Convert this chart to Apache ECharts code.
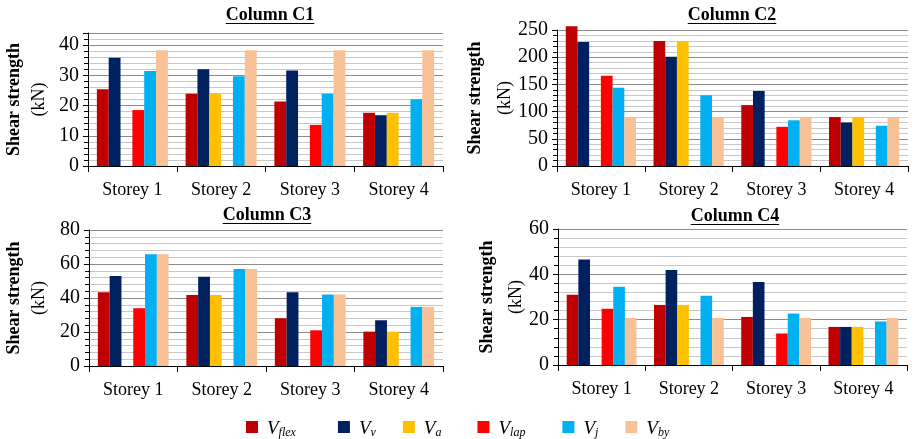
<!DOCTYPE html>
<html>
<head>
<meta charset="utf-8">
<script src="https://cdn.jsdelivr.net/npm/echarts@6/dist/echarts.min.js"></script>
<style>html,body{margin:0;padding:0;background:#fff}#c{width:915px;height:439px}</style>
</head>
<body>
<div id="c"></div>
<script>
const categories = ['Storey 1', 'Storey 2', 'Storey 3', 'Storey 4'];
const seriesNames = ['Vflex', 'Vv', 'Va', 'Vlap', 'Vj', 'Vby'];
const seriesColors = ['#C00000', '#002060', '#FFC000', '#FF0000', '#00B0F0', '#F9C196'];
const panelTitles = ['Column C1', 'Column C2', 'Column C3', 'Column C4'];
const yMax = [44, 250, 80, 60];
const yInterval = [10, 50, 20, 20];

// values per panel, per series (Vflex, Vv, Va, Vlap, Vj, Vby), per storey
const c1Vflex = [25.4, 23.9, 21.3, 17.6];
const c1Vv    = [35.8, 32.0, 31.6, 16.8];
const c1Va    = [0, 23.9, 0, 17.6];
const c1Vlap  = [18.5, 0, 13.6, 0];
const c1Vj    = [31.4, 29.7, 23.9, 22.1];
const c1Vby   = [38.3, 38.3, 38.3, 38.3];

const c2Vflex = [257, 230, 112, 90];
const c2Vv    = [228, 201, 138, 80];
const c2Va    = [0, 230, 0, 90];
const c2Vlap  = [166, 0, 72, 0];
const c2Vj    = [144, 130, 84, 74];
const c2Vby   = [89, 89, 89, 89];

const c3Vflex = [43.4, 41.8, 28.1, 20.2];
const c3Vv    = [53.0, 52.5, 43.4, 26.9];
const c3Va    = [0, 41.8, 0, 20.2];
const c3Vlap  = [34.0, 0, 21.0, 0];
const c3Vj    = [65.8, 57.0, 42.0, 34.8];
const c3Vby   = [65.8, 57.0, 42.0, 34.8];

const c4Vflex = [31.0, 26.5, 21.2, 16.8];
const c4Vv    = [46.5, 41.9, 36.6, 16.8];
const c4Va    = [0, 26.5, 0, 16.8];
const c4Vlap  = [24.8, 0, 13.9, 0];
const c4Vj    = [34.5, 30.5, 22.7, 19.2];
const c4Vby   = [20.8, 20.8, 20.8, 20.8];

const panelData = [
  [c1Vflex, c1Vv, c1Va, c1Vlap, c1Vj, c1Vby],
  [c2Vflex, c2Vv, c2Va, c2Vlap, c2Vj, c2Vby],
  [c3Vflex, c3Vv, c3Va, c3Vlap, c3Vj, c3Vby],
  [c4Vflex, c4Vv, c4Va, c4Vlap, c4Vj, c4Vby]
];

const serif = 'Liberation Serif';
const grids = [
  {left: 88, right: 472, top: 33, bottom: 273, outerBoundsMode: 'none', containLabel: false},
  {left: 557, right: 7, top: 30, bottom: 273, outerBoundsMode: 'none', containLabel: false},
  {left: 89, right: 472, top: 230, bottom: 73, outerBoundsMode: 'none', containLabel: false},
  {left: 558, right: 8, top: 229, bottom: 74, outerBoundsMode: 'none', containLabel: false}
];
const nameGaps = [36, 32, 37, 27];
const nameLineH = [25, 30, 25, 29];
const titlePos = [{x: 270, y: 5}, {x: 732, y: 5}, {x: 267, y: 205}, {x: 735, y: 206}];

const xAxes = [], yAxes = [], series = [], titles = [];
for (let p = 0; p < 4; p++) {
  xAxes.push({
    type: 'category', gridIndex: p, data: categories,
    axisLine: {show: true, lineStyle: {color: '#000', width: 1}},
    axisTick: {show: true, length: 6, interval: 0, lineStyle: {color: '#000'}},
    axisLabel: {
      fontFamily: serif, fontSize: 18, color: '#000', margin: 15, interval: 0,
      formatter: function (v) { return '{t|' + v + '}'; },
      rich: {t: {fontFamily: serif, fontSize: 18, color: '#000'}}
    },
    splitLine: {show: false}
  });
  yAxes.push({
    type: 'value', gridIndex: p, min: 0, max: yMax[p], interval: yInterval[p],
    axisLine: {show: true, lineStyle: {color: '#000', width: 1}},
    axisTick: {show: true, length: 5, lineStyle: {color: '#000'}},
    minorTick: {show: true, splitNumber: 5, length: 4, lineStyle: {color: '#000'}},
    splitLine: {show: true, lineStyle: {color: '#8c8c8c', width: 1}},
    minorSplitLine: {show: true, lineStyle: {color: '#c8c8c8', width: 1}},
    axisLabel: {
      fontFamily: serif, fontSize: 20, color: '#000', margin: 9,
      formatter: function (v) { return '{t|' + v + '}'; },
      rich: {t: {fontFamily: serif, fontSize: 20, color: '#000'}}
    },
    name: '{b|Shear strength}\n{n|(kN)}',
    nameLocation: 'middle', nameRotate: 90, nameGap: nameGaps[p],
    nameTextStyle: {
      rich: {
        b: {fontFamily: serif, fontSize: 18, fontWeight: 'bold', color: '#000', lineHeight: nameLineH[p]},
        n: {fontFamily: serif, fontSize: 18, color: '#000', lineHeight: nameLineH[p]}
      }
    }
  });
  for (let s = 0; s < 6; s++) {
    series.push({
      type: 'bar', name: seriesNames[s], xAxisIndex: p, yAxisIndex: p,
      data: panelData[p][s], itemStyle: {color: seriesColors[s]},
      barGap: '0%', barCategoryGap: '20%', clip: false
    });
  }
  titles.push({
    text: panelTitles[p], left: titlePos[p].x, top: titlePos[p].y, textAlign: 'center', padding: 0,
    textStyle: {fontFamily: serif, fontSize: 18, fontWeight: 'bold', color: '#000', lineHeight: 20}
  });
}

const subs = {Vflex: 'flex', Vv: 'v', Va: 'a', Vlap: 'lap', Vj: 'j', Vby: 'by'};
const subExtra = {Vflex: 15, Vv: 0, Va: 9, Vlap: 10, Vj: 0, Vby: 0};
const legendRich = {
  v: {fontFamily: serif, fontStyle: 'italic', fontSize: 19, color: '#000', verticalAlign: 'bottom', lineHeight: 22}
};
seriesNames.forEach(function (n) {
  legendRich['s' + n] = {fontFamily: serif, fontStyle: 'italic', fontSize: 12, color: '#000', verticalAlign: 'bottom',
    lineHeight: 14, padding: [0, subExtra[n], -1, 0]};
});
const option = {
  animation: false,
  backgroundColor: '#fff',
  textStyle: {fontFamily: serif},
  title: titles,
  grid: grids,
  xAxis: xAxes,
  yAxis: yAxes,
  series: series,
  legend: {
    data: seriesNames, left: 241, top: 414, itemWidth: 12, itemHeight: 12, itemGap: 27,
    icon: 'rect',
    formatter: function (n) { return '{v|V}{s' + n + '|' + subs[n] + '}'; },
    textStyle: {fontFamily: serif, padding: [0, 0, 0, 4], rich: legendRich}
  }
};
const chart = echarts.init(document.getElementById('c'), null, {renderer: 'canvas'});
chart.setOption(option);

// underline the panel titles, measured from the actual text width
const ctx = document.createElement('canvas').getContext('2d');
ctx.font = 'bold 18px "Liberation Serif"';
const uls = [];
for (let p = 0; p < 4; p++) {
  const w = ctx.measureText(panelTitles[p]).width;
  const y = titlePos[p].y + 18.5;
  uls.push({
    type: 'line', silent: true,
    shape: {x1: titlePos[p].x - w / 2, y1: y, x2: titlePos[p].x + w / 2, y2: y},
    style: {stroke: '#000', lineWidth: 1.2}
  });
}
chart.setOption({graphic: uls});
</script>
</body>
</html>
